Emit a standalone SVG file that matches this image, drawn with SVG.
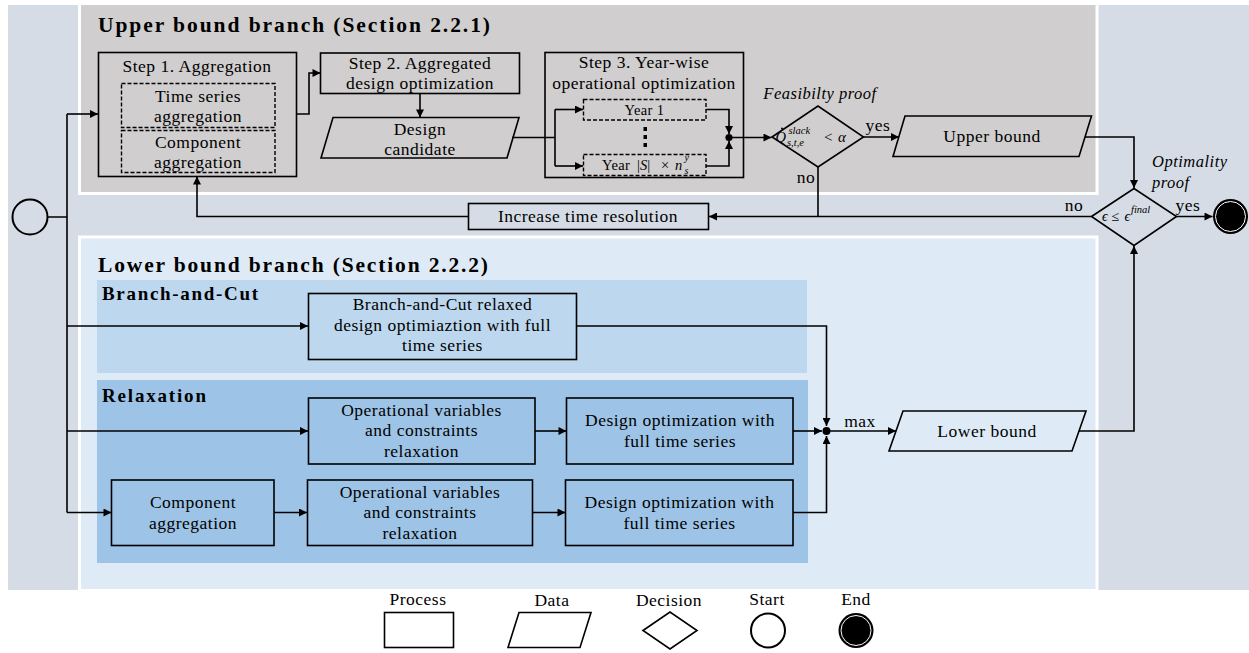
<svg xmlns="http://www.w3.org/2000/svg" width="1249" height="653" viewBox="0 0 1249 653">
<style>
text{font-family:"Liberation Serif","Times New Roman","DejaVu Serif",serif;fill:#000}
.t{font-size:17.5px;letter-spacing:0.5px;text-anchor:middle}
.ts{font-size:14.5px;letter-spacing:0.4px;text-anchor:middle}
.it{font-style:italic}
.bt{font-weight:bold;font-size:21.5px}
.bs{font-weight:bold;font-size:19px}
.box{stroke:#000;stroke-width:1.6}
.dash{fill:none;stroke:#000;stroke-width:1.4;stroke-dasharray:4,2}
.c{fill:none;stroke:#000;stroke-width:1.6}
.ca{fill:none;stroke:#000;stroke-width:1.6;marker-end:url(#ah)}
</style>
<defs>
<marker id="ah" viewBox="0 0 10 10" refX="10" refY="5" markerWidth="10" markerHeight="8" markerUnits="userSpaceOnUse" orient="auto">
<path d="M0,0 L10,5 L0,10 z" fill="#000"/>
</marker>
</defs>
<rect x="0" y="0" width="1249" height="653" fill="#fff"/>
<g id="backgrounds">
<rect x="8" y="5" width="1241" height="585" fill="#d6dce5"/>
<rect x="79.5" y="3.5" width="1017.5" height="190" fill="#d0cece" stroke="#fff" stroke-width="3"/>
<rect x="79.5" y="237" width="1017.5" height="353.5" fill="#deebf7" stroke="#fff" stroke-width="3"/>
<rect x="97" y="280" width="710" height="93" fill="#bdd7ee"/>
<rect x="97" y="380" width="711" height="183" fill="#9dc3e6"/>
<text class="bt" x="98" y="32" textLength="392" lengthAdjust="spacing">Upper bound branch (Section 2.2.1)</text>
<text class="bt" x="98" y="272" textLength="390" lengthAdjust="spacing">Lower bound branch (Section 2.2.2)</text>
<text class="bs" x="102" y="300" textLength="156" lengthAdjust="spacing">Branch-and-Cut</text>
<text class="bs" x="102" y="402" textLength="104" lengthAdjust="spacing">Relaxation</text>
</g>
<g id="connectors">
<path class="c" d="M48,217 H67 M67,114 V512.5"/>
<path class="ca" d="M67,114 H98"/>
<path class="ca" d="M67,326 H308"/>
<path class="ca" d="M67,431 H308"/>
<path class="ca" d="M67,512.5 H111.5"/>
<path class="ca" d="M296.5,114 H309 V73 H320.5"/>
<path class="ca" d="M420,93.5 V117.5"/>
<path class="c" d="M512,137.5 H555 M555,109.5 V166"/>
<path class="ca" d="M555,109.5 H583"/>
<path class="ca" d="M555,166 H583"/>
<path class="ca" d="M706,109.5 H729 V134"/>
<path class="ca" d="M706,166 H729 V141"/>
<circle cx="729" cy="137.5" r="3.6" fill="#000"/>
<path class="ca" d="M729,137.5 H771.5"/>
<path class="ca" d="M863,137 H899"/>
<path class="ca" d="M1085,137 H1134 V188"/>
<path class="c" d="M818,167 V216.5"/>
<path class="ca" d="M1091.5,216.5 H709"/>
<path class="ca" d="M468,216.5 H197 V176.5"/>
<path class="ca" d="M1176,216.5 H1212.5"/>
<path class="ca" d="M576.5,326 H826.5 V426"/>
<path class="ca" d="M535,431 H566.5"/>
<path class="ca" d="M793,431 H822"/>
<circle cx="826.5" cy="431" r="4" fill="#000"/>
<path class="ca" d="M826.5,431 H896"/>
<path class="ca" d="M274,512.5 H307"/>
<path class="ca" d="M532.5,512.5 H565.5"/>
<path class="ca" d="M793,512.5 H826.5 V436"/>
<path class="ca" d="M1078,431 H1134 V246"/>
<text class="t" x="878" y="131">yes</text>
<text class="t" x="806" y="183">no</text>
<text class="t" x="1074" y="211">no</text>
<text class="t" x="1188" y="211">yes</text>
<text class="t" x="860" y="427">max</text>
</g>
<g id="start">
<circle cx="30" cy="217" r="17.5" fill="#d6dce5" stroke="#000" stroke-width="2"/>
</g>
<g id="step1">
<rect class="box" x="98.5" y="52.5" width="198" height="124" fill="none"/>
<text class="t" x="197" y="72">Step 1. Aggregation</text>
</g>
<g id="ts-agg">
<rect class="dash" x="121.5" y="83.5" width="153.5" height="44"/>
<text class="t" x="198" y="101.5">Time series</text>
<text class="t" x="198" y="121.5">aggregation</text>
</g>
<g id="comp-agg-upper">
<rect class="dash" x="121.5" y="130.5" width="153.5" height="42"/>
<text class="t" x="198" y="147.5">Component</text>
<text class="t" x="198" y="168">aggregation</text>
</g>
<g id="step2">
<rect class="box" x="320.5" y="53" width="199" height="40.5" fill="none"/>
<text class="t" x="420" y="68.5">Step 2. Aggregated</text>
<text class="t" x="420" y="89">design optimization</text>
</g>
<g id="design-candidate">
<polygon class="box" points="333,117.5 519,117.5 507,158 321,158" fill="none"/>
<text class="t" x="420" y="134.5">Design</text>
<text class="t" x="420" y="155">candidate</text>
</g>
<g id="step3">
<rect class="box" x="545" y="52.5" width="198.5" height="125" fill="none"/>
<text class="t" x="644" y="68">Step 3. Year-wise</text>
<text class="t" x="644" y="88.5">operational optimization</text>
</g>
<g id="year1">
<rect class="dash" x="583.5" y="99.5" width="122.5" height="20.5"/>
<text class="ts" x="644.5" y="114.5">Year 1</text>
<rect x="643.5" y="127" width="3.5" height="4" fill="#000"/>
<rect x="643.5" y="135" width="3.5" height="4" fill="#000"/>
<rect x="643.5" y="143" width="3.5" height="4" fill="#000"/>
</g>
<g id="yearS">
<rect class="dash" x="583.5" y="154.5" width="122.5" height="21"/>
<text style="font-size:14.5px;letter-spacing:0.4px" x="602" y="170">Year</text>
<text style="font-size:14.5px" x="637" y="170">|<tspan class="it">S</tspan>|</text>
<text style="font-size:14.5px" x="661" y="170">×</text>
<text class="it" style="font-size:14.5px" x="675" y="170">n</text>
<text class="it" style="font-size:10px" x="684.5" y="161">y</text>
<text class="it" style="font-size:10px" x="684.5" y="173.5">s</text>
</g>
<g id="feasibility">
<polygon class="box" points="772,137 818,106 863.5,137 818,167" fill="none"/>
<text class="it" style="font-size:16.5px;letter-spacing:0.5px;text-anchor:middle" x="820" y="99">Feasibilty  proof</text>
<text class="it" style="font-size:14.5px" x="775.5" y="142">Q</text>
<circle cx="782" cy="128.5" r="1" fill="#000"/>
<text class="it" style="font-size:10.5px" x="788.5" y="134">slack</text>
<text class="it" style="font-size:10.5px" x="787" y="146">s,t,e</text>
<text style="font-size:15px" x="824" y="142">&lt;</text>
<text class="it" style="font-size:15px" x="838" y="142">α</text>
</g>
<g id="upper-bound">
<polygon class="box" points="905,116 1091.5,116 1079,156.5 893,156.5" fill="none"/>
<text class="t" x="992" y="142">Upper bound</text>
</g>
<g id="optimality">
<polygon class="box" points="1091.5,216.5 1134,188.5 1176.5,216.5 1134,245.5" fill="#d6dce5"/>
<text class="it" style="font-size:16.5px;letter-spacing:0.5px" x="1152" y="167">Optimality</text>
<text class="it" style="font-size:16.5px;letter-spacing:0.5px" x="1152" y="188">proof</text>
<text class="it" style="font-size:14px" x="1102" y="221">ϵ</text>
<text style="font-size:14px" x="1111.5" y="221">≤</text>
<text class="it" style="font-size:14px" x="1124.5" y="221">ϵ</text>
<text class="it" style="font-size:10.5px" x="1131" y="213">final</text>
</g>
<g id="end">
<circle cx="1230.5" cy="216.5" r="17.5" fill="#000"/>
<circle cx="1230.5" cy="216.5" r="15" fill="none" stroke="#fff" stroke-width="1"/>
</g>
<g id="increase">
<rect class="box" x="468.5" y="203.5" width="240" height="26" fill="#d6dce5"/>
<text class="t" x="588" y="222">Increase time resolution</text>
</g>
<g id="bnc">
<rect class="box" x="308.5" y="293.5" width="268" height="66" fill="none"/>
<text class="t" x="442.5" y="309.5">Branch-and-Cut relaxed</text>
<text class="t" x="442.5" y="330.5">design optimiaztion with full</text>
<text class="t" x="442.5" y="351">time series</text>
</g>
<g id="opvar1">
<rect class="box" x="308.5" y="398" width="226.5" height="66" fill="none"/>
<text class="t" x="421.5" y="415.5">Operational variables</text>
<text class="t" x="421.5" y="436">and constraints</text>
<text class="t" x="421.5" y="457">relaxation</text>
</g>
<g id="designopt1">
<rect class="box" x="566.5" y="398" width="226.5" height="66" fill="none"/>
<text class="t" x="680" y="426">Design optimization with</text>
<text class="t" x="680" y="447">full time series</text>
</g>
<g id="compagg">
<rect class="box" x="111.5" y="480" width="162.5" height="65.5" fill="none"/>
<text class="t" x="193" y="508">Component</text>
<text class="t" x="193" y="528.5">aggregation</text>
</g>
<g id="opvar2">
<rect class="box" x="307.5" y="480" width="225" height="65.5" fill="none"/>
<text class="t" x="420" y="497.5">Operational variables</text>
<text class="t" x="420" y="518">and constraints</text>
<text class="t" x="420" y="538.5">relaxation</text>
</g>
<g id="designopt2">
<rect class="box" x="565.5" y="480" width="227.5" height="65.5" fill="none"/>
<text class="t" x="679.5" y="508">Design optimization with</text>
<text class="t" x="679.5" y="528.5">full time series</text>
</g>
<g id="lower-bound">
<polygon class="box" points="903,411 1086,411 1072,451 889,451" fill="#deebf7"/>
<text class="t" x="987" y="437">Lower bound</text>
</g>
<g id="legend">
<text class="t" x="418" y="605">Process</text>
<rect class="box" x="384.5" y="612.5" width="69" height="35" fill="#fff"/>
<text class="t" x="552" y="606">Data</text>
<polygon class="box" points="519,612.5 591,612.5 580,647.5 508,647.5" fill="#fff"/>
<text class="t" x="669" y="606">Decision</text>
<polygon class="box" points="643,630.5 670,612 697,630.5 670,649" fill="#fff"/>
<text class="t" x="767" y="605">Start</text>
<circle cx="768" cy="630.5" r="17" fill="#fff" stroke="#000" stroke-width="2"/>
<text class="t" x="856" y="605">End</text>
<circle cx="856" cy="630.5" r="17.5" fill="#000"/>
<circle cx="856" cy="630.5" r="15" fill="none" stroke="#fff" stroke-width="1"/>
</g>
</svg>
